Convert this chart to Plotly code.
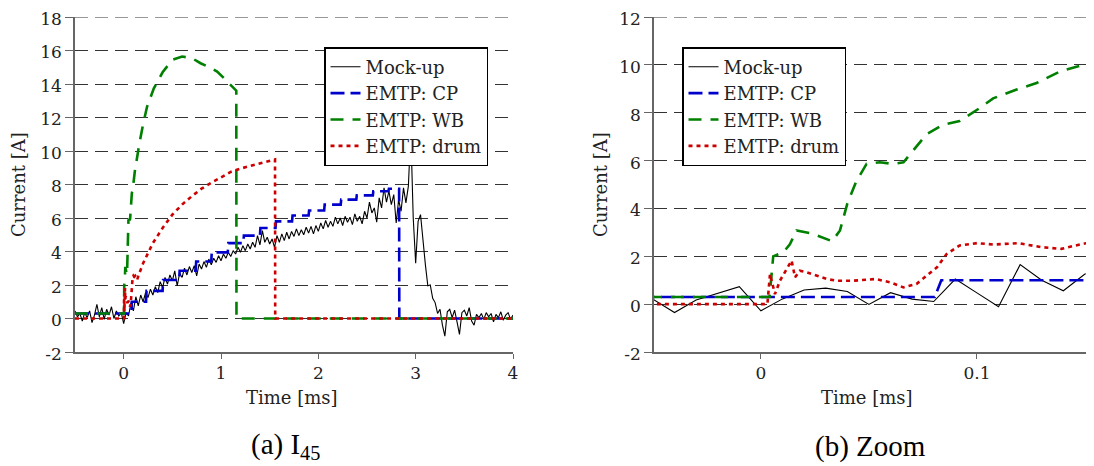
import numpy as np
import plotly.graph_objects as go

# ---------------- data ----------------
# Mock-up measurement, full view (sampled every 0.025 ms from -0.5 to 4.0 ms)
MOCK_FULL_I = [
    0.45, 0.10, 0.30, -0.15, 0.35, 0.05, 0.45, -0.25, 0.20, 0.85,    # -0.50
    0.10, 0.65, -0.05, 0.55, 0.20, 0.70, 0.00, 0.45, 0.15, 0.35,     # -0.25
    -0.30, 0.35, 0.15, 0.95, 0.45, 1.30, 0.75, 1.40, 1.00, 1.55,     # 0.00
    1.25, 1.75, 1.40, 1.90, 1.55, 2.20, 1.85, 2.45, 2.05, 2.60,      # 0.25
    2.25, 2.85, 1.95, 2.70, 2.45, 3.00, 2.60, 3.10, 2.75, 3.15,      # 0.50
    2.55, 3.25, 2.95, 3.40, 3.05, 3.55, 3.20, 3.60, 3.35, 3.75,      # 0.75
    3.45, 3.85, 3.60, 3.95, 3.70, 4.05, 3.85, 4.25, 3.95, 4.35,      # 1.00
    4.05, 4.45, 4.15, 4.55, 4.25, 4.95, 4.40, 5.25, 4.55, 4.85,      # 1.25
    4.45, 4.75, 4.25, 4.95, 4.55, 5.05, 4.65, 5.15, 4.75, 5.20,      # 1.50
    4.90, 5.35, 4.95, 5.30, 5.00, 5.45, 5.10, 5.50, 5.05, 5.55,      # 1.75
    5.20, 5.70, 5.35, 5.85, 5.45, 5.80, 5.50, 6.05, 5.65, 6.00,      # 2.00
    5.55, 6.10, 5.75, 6.05, 5.60, 6.25, 5.80, 6.10, 5.65, 6.40,      # 2.25
    6.00, 6.95, 6.30, 6.60, 5.75, 7.20, 6.60, 7.80, 6.95, 7.60,      # 2.50
    6.80, 7.40, 5.70, 7.10, 6.40, 7.80, 6.90, 7.90, 11.20, 6.00,     # 2.75
    3.30, 5.80, 6.20, 4.60, 3.20, 1.95, 2.00, 1.20, 0.95, 0.30,      # 3.00
    0.55, -0.40, -1.05, 0.40, 0.55, 0.05, 0.50, -0.20, -0.95, 0.35,  # 3.25
    0.50, 0.15, 0.65, -0.15, -0.40, 0.25, 0.05, 0.30, -0.05, 0.35,   # 3.50
    0.10, 0.30, -0.20, 0.25, 0.05, 0.40, -0.10, 0.20, 0.35, -0.05,   # 3.75
    0.20,                                                            # 4.00
]
MOCK_FULL_T = [round(-0.5 + 0.025 * k, 3) for k in range(len(MOCK_FULL_I))]

# Mock-up measurement, zoom view (sampled every 0.01 ms)
MOCK_ZOOM_T = [-0.05, -0.04, -0.03, -0.02, -0.01, 0.00, 0.01, 0.02, 0.03, 0.04, 0.05,
               0.06, 0.07, 0.08, 0.09, 0.10, 0.11, 0.12, 0.13, 0.14, 0.15, 0.16]
MOCK_ZOOM_I = [0.21, -0.35, 0.17, 0.45, 0.73, -0.28, 0.22, 0.59, 0.67, 0.53, -0.01,
               0.48, 0.21, 0.11, 1.05, 0.47, -0.11, 1.65, 1.00, 0.56, 1.26, 1.50]

# EMTP: CP
CP_T = [-0.5, 0.0805, 0.0835, 0.23, 0.235, 0.40, 0.405, 0.57, 0.575, 0.74, 0.745,
        0.90, 0.905, 1.07, 1.075, 1.23, 1.235, 1.40, 1.405, 1.56, 1.565, 1.73, 1.735,
        1.90, 1.905, 2.06, 2.065, 2.23, 2.235, 2.39, 2.395, 2.56, 2.565, 2.72, 2.725,
        2.83, 2.832, 4.0]
CP_I = [0.3, 0.3, 1.0, 1.0, 1.65, 1.65, 2.3, 2.3, 2.85, 2.85, 3.4,
        3.4, 3.95, 3.95, 4.5, 4.5, 4.95, 4.95, 5.4, 5.4, 5.8, 5.8, 6.15,
        6.15, 6.45, 6.45, 6.8, 6.8, 7.1, 7.1, 7.35, 7.35, 7.6, 7.6, 7.75,
        7.75, 0.0, 0.0]

# EMTP: WB
WB_T = [-0.5, 0.004, 0.0057, 0.0104, 0.0134, 0.0165, 0.024, 0.033, 0.0366, 0.040,
        0.044, 0.0489, 0.055, 0.061, 0.066, 0.0704, 0.0767, 0.0843, 0.092, 0.1014,
        0.1075, 0.1184, 0.1276, 0.1384, 0.149, 0.16, 0.20, 0.24, 0.31, 0.40,
        0.50, 0.60, 0.70, 0.79, 0.88, 0.96, 1.03, 1.10, 1.157, 1.159, 4.0]
WB_I = [0.3, 0.3, 2.0, 2.17, 2.5, 3.08, 2.94, 2.63, 3.08, 4.2,
        5.1, 5.86, 5.93, 5.86, 5.93, 6.41, 7.1, 7.5, 7.65, 8.2,
        8.6, 8.97, 9.24, 9.72, 10.0, 10.4, 11.6, 12.64, 13.74, 14.7,
        15.44, 15.64, 15.55, 15.24, 15.0, 14.74, 14.35, 13.94, 13.6, 0.0, 0.0]

# EMTP: drum
DRUM_T = [-0.5, 0.003, 0.0042, 0.0065, 0.0088, 0.0115, 0.0142, 0.0158, 0.018, 0.0212,
          0.0258, 0.0305, 0.035, 0.043, 0.053, 0.060, 0.066, 0.072, 0.0815, 0.086,
          0.092, 0.100, 0.108, 0.119, 0.130, 0.139, 0.149, 0.16, 0.20, 0.30,
          0.40, 0.50, 0.60, 0.70, 0.80, 0.90, 1.00, 1.10, 1.20, 1.30,
          1.40, 1.50, 1.555, 1.557, 4.0]
DRUM_I = [0.0, 0.0, 1.26, 0.42, 0.98, 1.4, 1.82, 1.12, 1.4, 1.33,
          1.19, 1.05, 0.98, 0.98, 1.05, 0.91, 0.7, 0.84, 1.54, 2.1,
          2.45, 2.55, 2.49, 2.55, 2.38, 2.31, 2.52, 2.7, 3.3, 4.5,
          5.4, 6.2, 6.8, 7.3, 7.75, 8.1, 8.45, 8.75, 8.95, 9.1,
          9.25, 9.4, 9.5, 0.0, 0.0]

SERIES_NAMES = ["Mock-up", "EMTP: CP", "EMTP: WB", "EMTP: drum"]
Y1_TICKS = [-2, 0, 2, 4, 6, 8, 10, 12, 14, 16, 18]
Y2_TICKS = [-2, 0, 2, 4, 6, 8, 10, 12]
X1_TICKS = [0, 1, 2, 3, 4]
X2_TICKS = [0, 0.1]
X_TITLE = "Time [ms]"
Y_TITLE = "Current [A]"
CAPTIONS = ["(a) I<sub>45</sub>", "(b) Zoom"]

# ---------------- styling ----------------
OFF = 8                       # page body margin of the html page
W, H = 1094 - OFF, 466 - OFF


def fx(p):                    # screen px -> paper x
    return (p - OFF) / W


def fy(p):                    # screen px -> paper y
    return 1 - (p - OFF) / H


FONT = "DejaVu Serif"
FS = 18
GRID_DASH = "13px,7px"
GRID_COLOR = "#333"
styles = {
    "Mock-up": dict(color="black", width=1.1, dash="solid"),
    "EMTP: CP": dict(color="#0000cc", width=2.6, dash="14px,6px"),
    "EMTP: WB": dict(color="#008000", width=2.6, dash="13px,9px"),
    "EMTP: drum": dict(color="#cc0000", width=2.6, dash="4px,4px"),
}

fig = go.Figure()

full_data = {
    "Mock-up": (MOCK_FULL_T, MOCK_FULL_I),
    "EMTP: CP": (CP_T, CP_I),
    "EMTP: WB": (WB_T, WB_I),
    "EMTP: drum": (DRUM_T, DRUM_I),
}
zoom_data = {
    "Mock-up": (MOCK_ZOOM_T, MOCK_ZOOM_I),
    "EMTP: CP": (CP_T, CP_I),
    "EMTP: WB": (WB_T, WB_I),
    "EMTP: drum": (DRUM_T, DRUM_I),
}

for name in SERIES_NAMES:
    t, i = full_data[name]
    fig.add_trace(go.Scatter(x=t, y=i, mode="lines", name=name, line=styles[name],
                             xaxis="x", yaxis="y", legend="legend"))
for name in SERIES_NAMES:
    t, i = zoom_data[name]
    fig.add_trace(go.Scatter(x=t, y=i, mode="lines", name=name, line=styles[name],
                             xaxis="x2", yaxis="y2", legend="legend2"))

ydom = [fy(352), fy(17)]
tfont = dict(family=FONT, size=FS, color="#222")
tickfont = dict(family=FONT, size=17, color="#222")
common_x = dict(showline=True, linecolor="#666", linewidth=1.5, ticks="outside",
                ticklen=5, tickcolor="#666", showgrid=False, zeroline=False,
                automargin=False, ticklabeloverflow="allow", tickfont=tickfont)
common_y = dict(showline=True, linecolor="#666", linewidth=1.5, ticks="outside",
                ticklen=8, tickcolor="#666", showgrid=True, gridcolor=GRID_COLOR,
                gridwidth=1, griddash=GRID_DASH, zeroline=False, ticklabelshift=2,
                automargin=False, ticklabeloverflow="allow", tickfont=tickfont)

leg = dict(xanchor="left", yanchor="top", bgcolor="white", bordercolor="black",
           borderwidth=1.5, font=tfont, tracegroupgap=0)

fig.update_layout(
    width=W, height=H,
    margin=dict(l=0, r=0, t=0, b=0, autoexpand=False),
    paper_bgcolor="white", plot_bgcolor="white",
    xaxis=dict(domain=[fx(75), fx(513)], range=[-0.5, 4.0], anchor="y",
               tickvals=X1_TICKS, ticktext=[str(v) for v in X1_TICKS], **common_x),
    yaxis=dict(domain=ydom, range=[-2, 18], anchor="x",
               tickvals=Y1_TICKS, ticktext=[str(v) for v in Y1_TICKS], **common_y),
    xaxis2=dict(domain=[fx(654), 1.0], range=[-0.0495, 0.1542], anchor="y2",
                tickvals=X2_TICKS, ticktext=[str(v) for v in X2_TICKS], **common_x),
    yaxis2=dict(domain=ydom, range=[-2, 12], anchor="x2",
                tickvals=Y2_TICKS, ticktext=[str(v) for v in Y2_TICKS], **common_y),
    legend=dict(x=fx(324), y=fy(47), **leg),
    legend2=dict(x=fx(682), y=fy(47), **leg),
    showlegend=True,
)

# top gridline of each panel (at the upper end of the y range)
for xr, yr, ytop in [("x domain", "y", Y1_TICKS[-1]), ("x2 domain", "y2", Y2_TICKS[-1])]:
    fig.add_shape(type="line", xref=xr, yref=yr, x0=0, x1=1, y0=ytop, y1=ytop,
                  line=dict(color=GRID_COLOR, width=1, dash=GRID_DASH), layer="below")

# axis titles placed as annotations for exact positioning
for cx in [292, 867]:
    fig.add_annotation(text=X_TITLE, x=fx(cx), y=fy(397), xref="paper", yref="paper",
                       showarrow=False, xanchor="center", yanchor="middle", font=tfont)
for cx in [19, 601]:
    fig.add_annotation(text=Y_TITLE, x=fx(cx), y=fy(185), xref="paper", yref="paper",
                       showarrow=False, xanchor="center", yanchor="middle",
                       textangle=-90, font=tfont)

for cap, cx in zip(CAPTIONS, [285, 870]):
    fig.add_annotation(text=cap, x=fx(cx), y=fy(446), xref="paper", yref="paper",
                       showarrow=False, xanchor="center", yanchor="middle",
                       font=dict(family="Liberation Serif", size=29, color="black"))

fig.write_html("out.html")
